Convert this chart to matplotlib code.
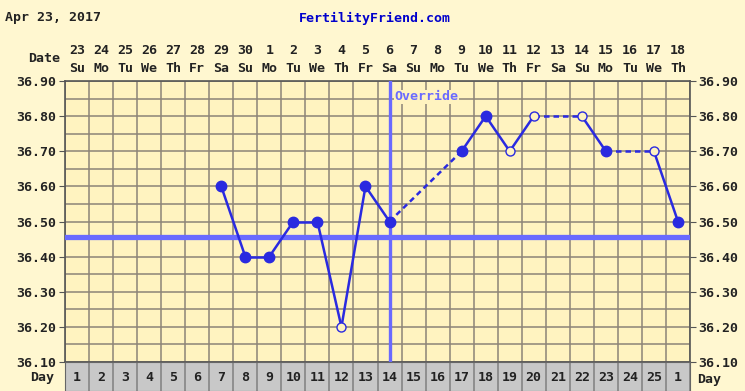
import matplotlib.pyplot as plt
import numpy as np

# chart data
cycle_days = list(range(1, 27))
day_labels = [str(d) for d in range(1, 26)] + ['1']
dates = ['23', '24', '25', '26', '27', '28', '29', '30', '1', '2', '3', '4', '5',
         '6', '7', '8', '9', '10', '11', '12', '13', '14', '15', '16', '17', '18']
weekdays = ['Su', 'Mo', 'Tu', 'We', 'Th', 'Fr', 'Sa'] * 4
temp_days = [7, 8, 9, 10, 11, 12, 13, 14, 17, 18, 19, 20, 22, 23, 25, 26]
temps = [36.60, 36.40, 36.40, 36.50, 36.50, 36.20, 36.60, 36.50,
         36.70, 36.80, 36.70, 36.80, 36.80, 36.70, 36.70, 36.50]
is_open = [False, False, False, False, False, True, False, False,
           False, False, True, True, True, False, True, False]
coverline = 36.455
override_day = 14
y_ticks = [36.10, 36.20, 36.30, 36.40, 36.50, 36.60, 36.70, 36.80, 36.90]

W, H = 745, 391
fig_bg = '#fff7d0'
plot_bg = '#fff3c0'
grid_c = '#8c8478'
line_c = '#2a2ae0'
over_c = '#6a6aff'
font = 'DejaVu Sans Mono'
fs = 9.5

fig = plt.figure(figsize=(W / 100, H / 100), dpi=100, facecolor=fig_bg)

L, R, T, B = 65, 690, 81, 362
ax = fig.add_axes([L / W, 1 - B / H, (R - L) / W, (B - T) / H])
ax.set_facecolor(plot_bg)
ax.set_xlim(0.5, 26.5)
ax.set_ylim(36.10, 36.90)

# grid
for x in np.arange(0.5, 27, 1):
    ax.axvline(x, color=grid_c, lw=1.1, zorder=1)
for y in np.arange(36.10, 36.91, 0.05):
    ax.axhline(y, color=grid_c, lw=1.1, zorder=1)
for s in ax.spines.values():
    s.set_color('#555555')
    s.set_linewidth(1.2)

ax.set_xticks([])
ax.set_yticks(y_ticks)
ax.set_yticklabels(['%.2f' % v for v in y_ticks])
ax.tick_params(axis='y', length=4, color='#555555', labelsize=fs,
               labelleft=True, labelright=True, right=True, pad=2)
for lab in ax.get_yticklabels():
    lab.set_fontfamily(font)
    lab.set_fontweight('bold')
    lab.set_color('#222222')

# coverline and override
ax.axhline(coverline, color=over_c, lw=3.8, zorder=3)
ax.axvline(override_day, color=over_c, lw=2.4, zorder=3)
ax.text(override_day + 0.2, 36.855, 'Override', color=over_c, fontsize=fs,
        family=font, fontweight='bold', va='center', ha='left', zorder=4,
        bbox=dict(facecolor=plot_bg, edgecolor='none', pad=0.5))

# temperature line: solid for consecutive days, dashed across gaps
for i in range(len(temp_days) - 1):
    ls = '-' if temp_days[i + 1] - temp_days[i] == 1 else (0, (2.2, 1.6))
    ax.plot(temp_days[i:i + 2], temps[i:i + 2], color=line_c, lw=1.8,
            ls=ls, zorder=5)
for d, t, o in zip(temp_days, temps, is_open):
    if o:
        ax.plot(d, t, 'o', ms=6.5, mfc=plot_bg, mec=line_c, mew=1.0, zorder=6)
    else:
        ax.plot(d, t, 'o', ms=7.5, color=line_c, zorder=6)

# day row
axd = fig.add_axes([L / W, 0, (R - L) / W, (H - B) / H])
axd.set_xlim(0.5, 26.5)
axd.set_ylim(0, 1)
axd.set_facecolor('#c8c8c8')
axd.set_xticks([])
axd.set_yticks([])
for x in np.arange(0.5, 27, 1):
    axd.axvline(x, color='#8a8a8a', lw=1.3)
for s in axd.spines.values():
    s.set_color('#666666')
for d, lab in zip(cycle_days, day_labels):
    axd.text(d, 0.45, lab, ha='center', va='center', fontsize=fs,
             family=font, fontweight='bold', color='#222222')

def ftext(x, y, s, **kw):
    kw.setdefault('fontsize', fs)
    kw.setdefault('color', '#222222')
    fig.text(x / W, 1 - y / H, s, family=font, fontweight='bold', **kw)

ftext(30, 377, 'Day', ha='left', va='center')
ftext(697, 380, 'Day', ha='left', va='center')

# header
ftext(5, 18, 'Apr 23, 2017', ha='left', va='center')
ftext(375, 18, 'FertilityFriend.com', ha='center', va='center', color='#0000cc')
ftext(60, 59, 'Date', ha='right', va='center')
col_w = (R - L) / 26
for i, (dt, wd) in enumerate(zip(dates, weekdays)):
    cx = L + (i + 0.5) * col_w
    ftext(cx, 50, dt, ha='center', va='center')
    ftext(cx, 68, wd, ha='center', va='center')

fig.savefig('out.png', dpi=100, facecolor=fig_bg)
